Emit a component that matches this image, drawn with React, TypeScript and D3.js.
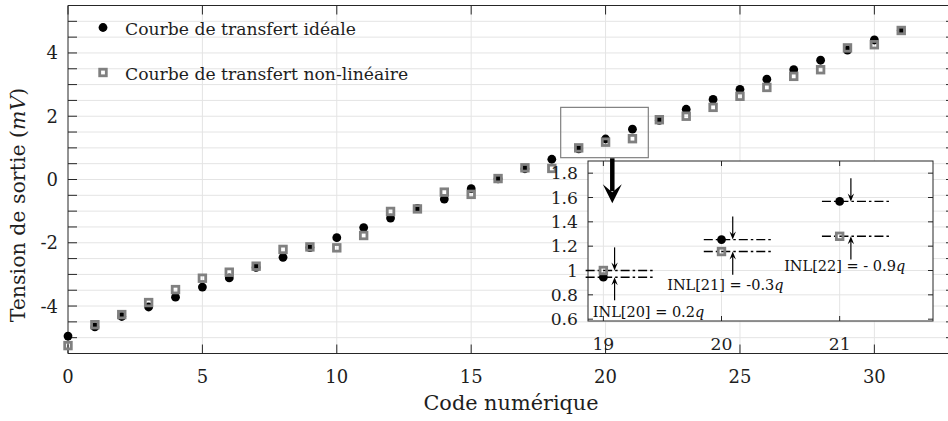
import React from 'react';
import * as d3 from 'd3';

// ---------- data ----------
const codes = [0, 1, 2, 3, 4, 5, 6, 7, 8, 9, 10, 11, 12, 13, 14, 15, 16, 17, 18, 19, 20, 21, 22, 23, 24, 25, 26, 27, 28, 29, 30, 31];
const idealValues = [-4.95, -4.66, -4.33, -4.03, -3.72, -3.40, -3.11, -2.78, -2.46, -2.15, -1.84, -1.52, -1.22, -0.91, -0.62, -0.29, 0.02, 0.34, 0.64, 0.97, 1.28, 1.59, 1.87, 2.22, 2.53, 2.85, 3.17, 3.47, 3.77, 4.09, 4.41, 4.71];
const nonlinearValues = [-5.25, -4.59, -4.27, -3.89, -3.48, -3.12, -2.93, -2.74, -2.21, -2.13, -2.16, -1.77, -1.01, -0.93, -0.40, -0.47, 0.03, 0.37, 0.35, 1.0, 1.18, 1.29, 1.89, 2.0, 2.28, 2.63, 2.91, 3.26, 3.47, 4.16, 4.26, 4.71];
const xTickValues = [0, 5, 10, 15, 20, 25, 30];
const yTickLabels = [-4, -2, 0, 2, 4];
const legendLabels = ['Courbe de transfert idéale', 'Courbe de transfert non-linéaire'];
const xAxisLabel = 'Code numérique';

const insetCodes = [19, 20, 21];
const insetIdeal = [0.945, 1.254, 1.568];
const insetNonlinear = [1.0, 1.156, 1.281];
const insetYTicks = [0.6, 0.8, 1, 1.2, 1.4, 1.6, 1.8];
const inlPrefix = ['INL[20] = 0.2', 'INL[21] = -0.3', 'INL[22] = - 0.9'];
const inlLabelPos = [[18.91, 0.616], [19.54, 0.842], [20.53, 1.0]];

// ---------- layout ----------
const W = 948, H = 421;
const FONT = '"DejaVu Serif", serif';
const GRID = '#e4e4e4';
const AXIS = '#262626';
const TXT = '#1e1e1e';
const GRAY = '#808080';

const x = d3.scaleLinear().domain([0, 33]).range([68, 955]);
const y = d3.scaleLinear().domain([-5.5, 5.5]).range([353.5, 5.5]);
const yMinor = d3.range(-5.5, 5.51, 0.5);

const ix = d3.scaleLinear().domain([18.87, 21.79]).range([588, 933]);
const iy = d3.scaleLinear().domain([0.585, 1.9]).range([321, 161]);

const Square = ({ cx, cy }: { cx: number; cy: number }) => (
  <rect x={cx - 3.3} y={cy - 3.3} width={6.6} height={6.6} fill="none" stroke={GRAY} strokeWidth={2.8} />
);
const Dot = ({ cx, cy }: { cx: number; cy: number }) => <circle cx={cx} cy={cy} r={4.4} fill="#000" />;

const SmallArrow = ({ px, from, to }: { px: number; from: number; to: number }) => {
  const dir = to > from ? 1 : -1;
  const head = 8;
  const p = d3.path();
  p.moveTo(px, to);
  p.lineTo(px - 3.2, to - dir * head);
  p.lineTo(px, to - dir * (head - 3));
  p.lineTo(px + 3.2, to - dir * head);
  p.closePath();
  return (
    <g>
      <line x1={px} x2={px} y1={from} y2={to - dir * 4} stroke="#000" strokeWidth={1.2} />
      <path d={p.toString()} fill="#000" />
    </g>
  );
};

export default function App() {
  const [x0, x1] = x.range();
  const [yb, yt] = y.range();
  const [ix0, ix1] = ix.range();
  const [iyb, iyt] = iy.range();

  const ax = x(20.25);
  const ay0 = y(0.67);
  const ay1 = y(-0.75);
  const bigHead = d3.path();
  bigHead.moveTo(ax, ay1);
  bigHead.lineTo(ax - 9.5, ay1 - 19);
  bigHead.lineTo(ax, ay1 - 11);
  bigHead.lineTo(ax + 9.5, ay1 - 19);
  bigHead.closePath();

  return (
    <svg width={W} height={H} style={{ position: 'absolute', left: 0, top: 0, background: '#fff' }} fontFamily={FONT}>
      <rect width={W} height={H} fill="#fff" />
      {/* main grid */}
      {yMinor.filter((v) => v > -5.5 && v < 5.5).map((v) => (
        <line key={'gy' + v} x1={x0} x2={x1} y1={y(v)} y2={y(v)} stroke={GRID} strokeWidth={1} />
      ))}
      {xTickValues.filter((v) => v > 0).map((v) => (
        <line key={'gx' + v} x1={x(v)} x2={x(v)} y1={yt} y2={yb} stroke={GRID} strokeWidth={1} />
      ))}

      {/* axes box */}
      <line x1={x0} x2={x1} y1={yb} y2={yb} stroke={AXIS} strokeWidth={1} />
      <line x1={x0} x2={x1} y1={yt} y2={yt} stroke={AXIS} strokeWidth={1} />
      <line x1={x0} x2={x0} y1={yt} y2={yb} stroke={AXIS} strokeWidth={1} />
      <line x1={x1} x2={x1} y1={yt} y2={yb} stroke={AXIS} strokeWidth={1} />
      {xTickValues.map((v) => (
        <g key={'xt' + v}>
          <line x1={x(v)} x2={x(v)} y1={yb} y2={yb - 9} stroke={AXIS} />
          <line x1={x(v)} x2={x(v)} y1={yt} y2={yt + 9} stroke={AXIS} />
          <text x={x(v)} y={383} textAnchor="middle" fontSize={18} fill={TXT}>{v}</text>
        </g>
      ))}
      {yMinor.map((v) => (
        <g key={'yt' + v}>
          <line x1={x0} x2={x0 + 9} y1={y(v)} y2={y(v)} stroke={AXIS} />
          <line x1={x1} x2={x1 - 9} y1={y(v)} y2={y(v)} stroke={AXIS} />
        </g>
      ))}
      {yTickLabels.map((v) => (
        <text key={'yl' + v} x={58} y={y(v)} dy="0.36em" textAnchor="end" fontSize={18} fill={TXT}>{v}</text>
      ))}
      <text x={511} y={410} textAnchor="middle" fontSize={20.8} fill={TXT}>{xAxisLabel}</text>
      <text transform="translate(25,205) rotate(-90)" textAnchor="middle" fontSize={20.5} fill={TXT}>
        Tension de sortie  (<tspan fontStyle="italic">mV</tspan>)
      </text>

      {/* data */}
      {codes.map((c, i) => <Dot key={'d' + c} cx={x(c)} cy={y(idealValues[i])} />)}
      {codes.map((c, i) => <Square key={'s' + c} cx={x(c)} cy={y(nonlinearValues[i])} />)}

      {/* legend */}
      <Dot cx={103} cy={27.5} />
      <text x={125} y={35} fontSize={17.2} fill={TXT}>{legendLabels[0]}</text>
      <Square cx={103} cy={72.5} />
      <text x={125} y={80} fontSize={17.2} fill={TXT}>{legendLabels[1]}</text>

      {/* highlight box */}
      <rect x={x(18.33)} y={y(2.28)} width={x(21.59) - x(18.33)} height={y(0.69) - y(2.28)} fill="none" stroke={GRAY} strokeWidth={1.2} />

      {/* inset */}
      <rect x={ix0} y={iyt} width={ix1 - ix0} height={iyb - iyt} fill="#fff" />
      {insetYTicks.filter((v) => v > 0.6).map((v) => (
        <line key={'igy' + v} x1={ix0} x2={ix1} y1={iy(v)} y2={iy(v)} stroke={GRID} />
      ))}
      {insetCodes.map((c) => (
        <line key={'igx' + c} x1={ix(c)} x2={ix(c)} y1={iyt} y2={iyb} stroke={GRID} />
      ))}
      <rect x={ix0} y={iyt} width={ix1 - ix0} height={iyb - iyt} fill="none" stroke={AXIS} strokeWidth={1} />
      {insetYTicks.map((v) => (
        <g key={'iyt' + v}>
          <line x1={ix0} x2={ix0 + 5} y1={iy(v)} y2={iy(v)} stroke={AXIS} />
          <line x1={ix1} x2={ix1 - 5} y1={iy(v)} y2={iy(v)} stroke={AXIS} />
          <text x={578} y={iy(v)} dy="0.36em" textAnchor="end" fontSize={17.2} fill={TXT}>{v}</text>
        </g>
      ))}
      {insetCodes.map((c) => (
        <g key={'ixt' + c}>
          <line x1={ix(c)} x2={ix(c)} y1={iyt} y2={iyt + 5} stroke={AXIS} />
          <line x1={ix(c)} x2={ix(c)} y1={iyb} y2={iyb - 5} stroke={AXIS} />
          <text x={ix(c)} y={350} textAnchor="middle" fontSize={17.2} fill={TXT}>{c}</text>
        </g>
      ))}
      {insetCodes.map((c, i) => {
        const up = Math.max(insetIdeal[i], insetNonlinear[i]);
        const lo = Math.min(insetIdeal[i], insetNonlinear[i]);
        const px = ix(c + 0.095);
        return (
          <g key={'inl' + c}>
            <line x1={ix(c - 0.15)} x2={ix(c + 0.42)} y1={iy(insetIdeal[i])} y2={iy(insetIdeal[i])} stroke="#000" strokeWidth={1.4} strokeDasharray="9,3,2.5,3" />
            <line x1={ix(c - 0.15)} x2={ix(c + 0.42)} y1={iy(insetNonlinear[i])} y2={iy(insetNonlinear[i])} stroke="#000" strokeWidth={1.4} strokeDasharray="9,3,2.5,3" />
            <Dot cx={ix(c)} cy={iy(insetIdeal[i])} />
            <Square cx={ix(c)} cy={iy(insetNonlinear[i])} />
            <SmallArrow px={px} from={iy(up + 0.19)} to={iy(up)} />
            <SmallArrow px={px} from={iy(lo - 0.19)} to={iy(lo)} />
            <text x={ix(inlLabelPos[i][0])} y={iy(inlLabelPos[i][1])} fontSize={14.5} fill="#111">
              {inlPrefix[i]}<tspan fontStyle="italic">q</tspan>
            </text>
          </g>
        );
      })}

      {/* big arrow */}
      <line x1={ax} x2={ax} y1={ay0} y2={ay1 - 12} stroke="#000" strokeWidth={4.5} />
      <path d={bigHead.toString()} fill="#000" />
    </svg>
  );
}
